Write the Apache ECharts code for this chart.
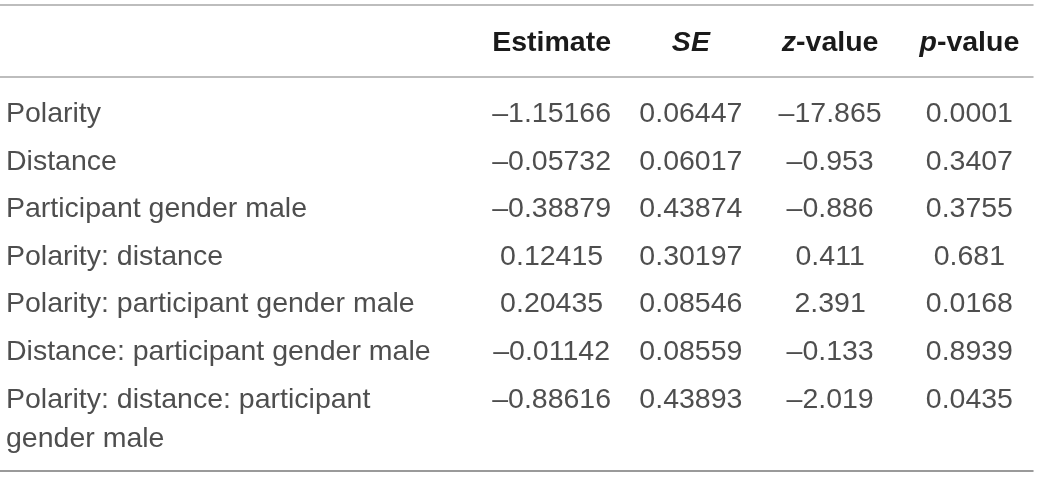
<!DOCTYPE html>
<html>
<head>
<meta charset="utf-8">
<script src="https://cdn.jsdelivr.net/npm/echarts@6/dist/echarts.min.js"></script>
<style>
  html, body { margin: 0; padding: 0; background: #fff; }
  #chart { width: 1039px; height: 477px; }
</style>
</head>
<body>
<div id="chart"></div>
<script>
// table content
const rowLabels = [
  'Polarity',
  'Distance',
  'Participant gender male',
  'Polarity: distance',
  'Polarity: participant gender male',
  'Distance: participant gender male',
  'Polarity: distance: participant\ngender male'
];
const columns = ['Estimate', 'SE', 'z-value', 'p-value'];
const estimate = [-1.15166, -0.05732, -0.38879, 0.12415, 0.20435, -0.01142, -0.88616];
const se = [0.06447, 0.06017, 0.43874, 0.30197, 0.08546, 0.08559, 0.43893];
const zValue = [-17.865, -0.953, -0.886, 0.411, 2.391, -0.133, -2.019];
const pValue = [0.0001, 0.3407, 0.3755, 0.681, 0.0168, 0.8939, 0.0435];

const FONT = '"Liberation Sans", Arial, sans-serif';
const TEXT = '#222222';
const SIZE = 28.5;
const LINE_H = 39;

// one extra empty band below the last row for its wrapped second line
const rowCats = rowLabels.concat(['']);
const colValues = [estimate, se, zValue, pValue];

const fmt = v => String(v).replace('-', '\u2013');

const headerRich = {
  b: { fontFamily: FONT, fontSize: SIZE, fontWeight: 'bold', color: '#1a1a1a' },
  bi: { fontFamily: FONT, fontSize: SIZE, fontWeight: 'bold', fontStyle: 'italic', color: '#1a1a1a' }
};
function headerText(name) {
  if (name === 'SE') return '{bi|SE}';
  if (name.indexOf('-') === 1) return '{bi|' + name[0] + '}{b|' + name.slice(1) + '}';
  return '{b|' + name + '}';
}

const labelData = rowLabels.map(name => {
  const multi = name.indexOf('\n') >= 0;
  return {
    value: [0, name],
    label: multi ? { verticalAlign: 'top', offset: [0, -LINE_H / 2] } : {}
  };
});

const cellData = [];
colValues.forEach((vals, c) => {
  vals.forEach((v, r) => cellData.push({ value: [columns[c], rowLabels[r]], text: fmt(v) }));
});

const hiddenValueAxis = (gridIndex, position, showLine, lineColor) => ({
  type: 'value', gridIndex, position, min: 0, max: 1,
  axisLine: { show: showLine, onZero: false, lineStyle: { color: lineColor, width: 1.5 } },
  axisTick: { show: false }, axisLabel: { show: false }, splitLine: { show: false }
});

const chart = echarts.init(document.getElementById('chart'), null, { renderer: 'canvas' });
chart.setOption({
  animation: false,
  backgroundColor: '#ffffff',
  grid: [
    { left: 0, right: 6, top: 5, height: 72 },
    { left: 0, right: 6, top: 90.5, bottom: 6 },
    { left: 482, right: -12, top: 90.5, bottom: 6 }
  ],
  xAxis: [
    hiddenValueAxis(0, 'top', true, '#a8a8a8'),
    hiddenValueAxis(0, 'bottom', true, '#a8a8a8'),
    hiddenValueAxis(1, 'bottom', true, '#7a7a7a'),
    {
      type: 'category', gridIndex: 2, position: 'top', data: columns,
      axisLine: { show: false }, axisTick: { show: false }, splitLine: { show: false },
      axisLabel: {
        margin: 32, lineHeight: 30, interval: 0,
        formatter: headerText, rich: headerRich
      }
    }
  ],
  yAxis: [
    { type: 'value', gridIndex: 0, show: false },
    { type: 'category', gridIndex: 1, data: rowCats, inverse: true, show: false },
    { type: 'category', gridIndex: 2, data: rowCats, inverse: true, show: false }
  ],
  series: [
    {
      type: 'scatter', xAxisIndex: 2, yAxisIndex: 1, symbolSize: 0, silent: true,
      data: labelData,
      label: {
        show: true, position: 'right', distance: 6,
        formatter: p => p.value[1],
        fontFamily: FONT, fontSize: SIZE, color: TEXT, lineHeight: LINE_H
      }
    },
    {
      type: 'scatter', xAxisIndex: 3, yAxisIndex: 2, symbolSize: 0, silent: true,
      data: cellData,
      label: {
        show: true, position: 'inside',
        formatter: p => p.data.text,
        fontFamily: FONT, fontSize: SIZE, color: TEXT
      }
    }
  ]
});
</script>
</body>
</html>
